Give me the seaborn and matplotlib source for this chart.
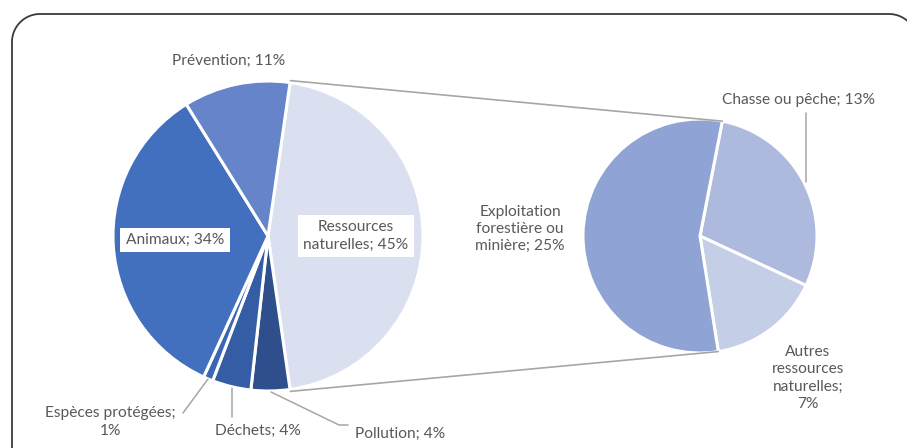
import numpy as np
import matplotlib
matplotlib.use('Agg')
import matplotlib.pyplot as plt
from matplotlib.path import Path
from matplotlib.patches import PathPatch
import seaborn as sns

# data
main_labels = ['Ressources\nnaturelles', 'Pollution', 'Déchets',
               'Espèces protégées;\n', 'Animaux', 'Prévention']
main_values = [45, 4, 4, 1, 34, 11]
sub_labels = ['Chasse ou pêche', 'Autres\nressources\nnaturelles;\n',
              'Exploitation\nforestière ou\nminière']
sub_values = [13, 7, 25]

main_colors = ['#DAE0F0', '#2E4F8C', '#355DA6', '#3A66B5', '#4370BE', '#6584C9']
sub_colors = ['#ADBADE', '#C5CEE7', '#8FA4D4']

sns.set_style('white')
plt.rcParams['font.family'] = ['Lato', 'DejaVu Sans']

W, H = 907, 448
fig = plt.figure(figsize=(W / 100, H / 100), dpi=100)
ax = fig.add_axes([0, 0, 1, 1])

main_c, main_r = (268, H - 236), 155
sub_c, sub_r = (700, H - 236), 117

# first wedge (Ressources naturelles) centred on the horizontal axis
start_main = 360 * main_values[0] / sum(main_values) / 2
wedges_main, _ = ax.pie(main_values, colors=main_colors, center=main_c,
                        radius=main_r, startangle=start_main, counterclock=False,
                        wedgeprops=dict(edgecolor='white', linewidth=2.2), frame=True)
wedges_sub, _ = ax.pie(sub_values, colors=sub_colors, center=sub_c,
                       radius=sub_r, startangle=79, counterclock=False,
                       wedgeprops=dict(edgecolor='white', linewidth=2.2), frame=True)


def edge_point(c, r, deg):
    t = np.deg2rad(deg)
    return c[0] + r * np.cos(t), c[1] + r * np.sin(t)


# connector lines between the pies
w0 = wedges_main[0]
p_top = edge_point(main_c, main_r + 2, w0.theta2)
p_bot = edge_point(main_c, main_r + 2, w0.theta1)
q_top = edge_point(sub_c, sub_r, wedges_sub[0].theta2)
q_bot = edge_point(sub_c, sub_r, wedges_sub[1].theta1)
ax.plot([p_top[0], q_top[0]], [p_top[1], q_top[1]], color='#A6A6A6', lw=1.2)
ax.plot([p_bot[0], q_bot[0]], [p_bot[1], q_bot[1]], color='#A6A6A6', lw=1.2)

txt = dict(color='#595959', fontsize=11.2, ha='center', va='center', linespacing=1.3)
box = dict(boxstyle='square,pad=0.35', fc='white', ec='none')

# main pie labels
label_pos_main = [(356, 236), (400, 434), (258, 431), (110, 422), (175, 240), (229, 61)]
for i, (lab, v) in enumerate(zip(main_labels, main_values)):
    x, y = label_pos_main[i]
    s = f'{lab}{v}%' if lab.endswith('\n') else f'{lab}; {v}%'
    ax.text(x, H - y, s, bbox=box if i in (0, 4) else None, **txt)

label_pos_sub = [(798, 100), (808, 378), (520, 229)]
for i, (lab, v) in enumerate(zip(sub_labels, sub_values)):
    x, y = label_pos_sub[i]
    s = f'{lab}{v}%' if lab.endswith('\n') else f'{lab}; {v}%'
    ax.text(x, H - y, s, **txt)

# leader lines
leaders = [
    [(183, 413), (208, 379)],
    [(232, 388), (232, 417)],
    [(271, 392), (339, 425), (348, 425)],
    [(806, 113), (806, 182)],
]
for pts in leaders:
    xs = [p[0] for p in pts]
    ys = [H - p[1] for p in pts]
    ax.plot(xs, ys, color='#A6A6A6', lw=1.1)

# rounded chart frame: left side, top side and two rounded corners
rad = 28
left, top, right = 12, H - 14, 917
t1 = np.linspace(np.pi, np.pi / 2, 30)
t2 = np.linspace(np.pi / 2, 0, 30)
fx = np.concatenate([[left], left + rad + rad * np.cos(t1),
                     right - rad + rad * np.cos(t2), [right]])
fy = np.concatenate([[-5], top - rad + rad * np.sin(t1),
                     top - rad + rad * np.sin(t2), [-5]])
ax.plot(fx, fy, color='#3A3A3A', lw=1.3, clip_on=False, solid_capstyle='butt')

ax.set_xlim(0, W)
ax.set_ylim(0, H)
ax.set_aspect('auto')
ax.axis('off')

fig.savefig('out.png', dpi=100)
